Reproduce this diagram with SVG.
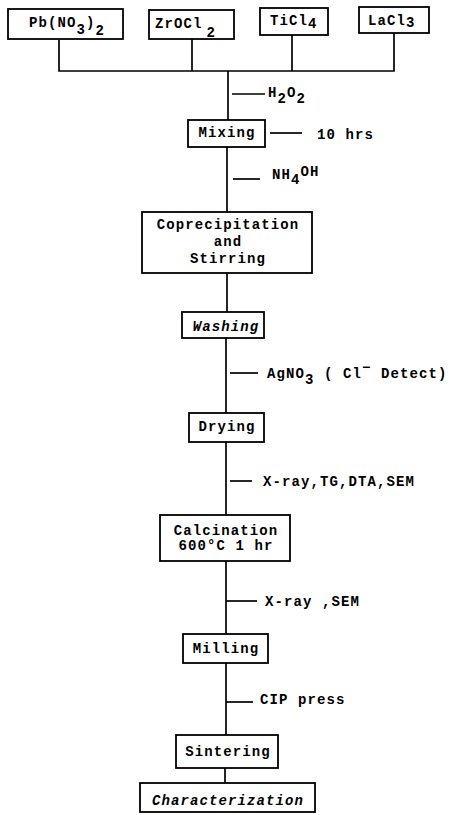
<svg xmlns="http://www.w3.org/2000/svg" width="451" height="815" viewBox="0 0 451 815">
<style>
.box{fill:#fff;stroke:#000;stroke-width:1.8}
.ln{fill:none;stroke:#000;stroke-width:1.7}
text{font-family:"Liberation Mono","DejaVu Sans Mono",monospace;font-size:14px;font-weight:bold;letter-spacing:1.1px;fill:#000}
.c{text-anchor:middle}
.i{font-style:italic}
</style>
<rect width="451" height="815" fill="#fff"/>
<g id="connectors">
<polyline class="ln" points="59,40 59,71 394,71 394,33"/>
<line class="ln" x1="192" y1="39" x2="192" y2="71"/>
<line class="ln" x1="292" y1="35" x2="292" y2="71"/>
<line class="ln" x1="228" y1="71" x2="228" y2="120"/>
<line class="ln" x1="227" y1="147" x2="227" y2="212"/>
<line class="ln" x1="227" y1="273" x2="227" y2="312"/>
<line class="ln" x1="226" y1="338" x2="226" y2="413"/>
<line class="ln" x1="226" y1="442" x2="226" y2="515"/>
<line class="ln" x1="226" y1="561" x2="226" y2="634"/>
<line class="ln" x1="226" y1="663" x2="226" y2="735"/>
<line class="ln" x1="225" y1="768" x2="225" y2="783"/>
<line class="ln" x1="232" y1="94" x2="265" y2="94"/>
<line class="ln" x1="270" y1="133" x2="302" y2="133"/>
<line class="ln" x1="233" y1="179" x2="260" y2="179"/>
<line class="ln" x1="230" y1="373" x2="258" y2="373"/>
<line class="ln" x1="230" y1="481" x2="252" y2="481"/>
<line class="ln" x1="226" y1="601" x2="257" y2="601"/>
<line class="ln" x1="226" y1="702" x2="253" y2="702"/>
</g>
<g id="labels">
<text x="268" y="97">H<tspan dy="6">2</tspan><tspan dy="-6">O</tspan><tspan dy="6">2</tspan></text>
<text x="317" y="139">10 hrs</text>
<text x="272" y="179">NH<tspan dy="5">4</tspan><tspan dy="-8">OH</tspan></text>
<text x="267" y="378">AgNO<tspan dy="6">3</tspan><tspan dy="-6"> ( Cl</tspan><tspan dy="-6">−</tspan><tspan dy="6"> Detect)</tspan></text>
<text x="263" y="486">X-ray,TG,DTA,SEM</text>
<text x="265" y="606">X-ray ,SEM</text>
<text x="260" y="704">CIP press</text>
</g>
<g id="n-pb"><rect class="box" x="8" y="9" width="115" height="30"/><text x="29" y="27">Pb(NO<tspan dy="7">3</tspan><tspan dy="-7">)</tspan><tspan dy="8">2</tspan></text></g>
<g id="n-zr"><rect class="box" x="149" y="10" width="85" height="29"/><text x="155" y="28">ZrOCl<tspan dx="4" dy="9">2</tspan></text></g>
<g id="n-ti"><rect class="box" x="260" y="8" width="68" height="27"/><text x="270" y="25">TiCl<tspan dy="3">4</tspan></text></g>
<g id="n-la"><rect class="box" x="359" y="7" width="70" height="26"/><text x="368" y="25">LaCl<tspan dy="2">3</tspan></text></g>
<g id="n-mixing"><rect class="box" x="188" y="120" width="77" height="27"/><text class="c" x="227" y="137">Mixing</text></g>
<g id="n-coprec"><rect class="box" x="142" y="212" width="170" height="61"/><text class="c" x="228" y="229">Coprecipitation</text><text class="c" x="228" y="246">and</text><text class="c" x="228" y="263">Stirring</text></g>
<g id="n-washing"><rect class="box" x="182" y="312" width="82" height="26"/><text class="c i" x="226" y="331">Washing</text></g>
<g id="n-drying"><rect class="box" x="189" y="413" width="75" height="29"/><text class="c" x="227" y="431">Drying</text></g>
<g id="n-calc"><rect class="box" x="160" y="515" width="130" height="46"/><text class="c" x="226" y="535">Calcination</text><text class="c" x="226" y="550">600°C 1 hr</text></g>
<g id="n-milling"><rect class="box" x="183" y="634" width="85" height="29"/><text class="c" x="226" y="653">Milling</text></g>
<g id="n-sintering"><rect class="box" x="176" y="735" width="102" height="33"/><text class="c" x="228" y="756">Sintering</text></g>
<g id="n-char"><rect class="box" x="140" y="783" width="175" height="29"/><text class="c i" x="228" y="805">Characterization</text></g>
</svg>
